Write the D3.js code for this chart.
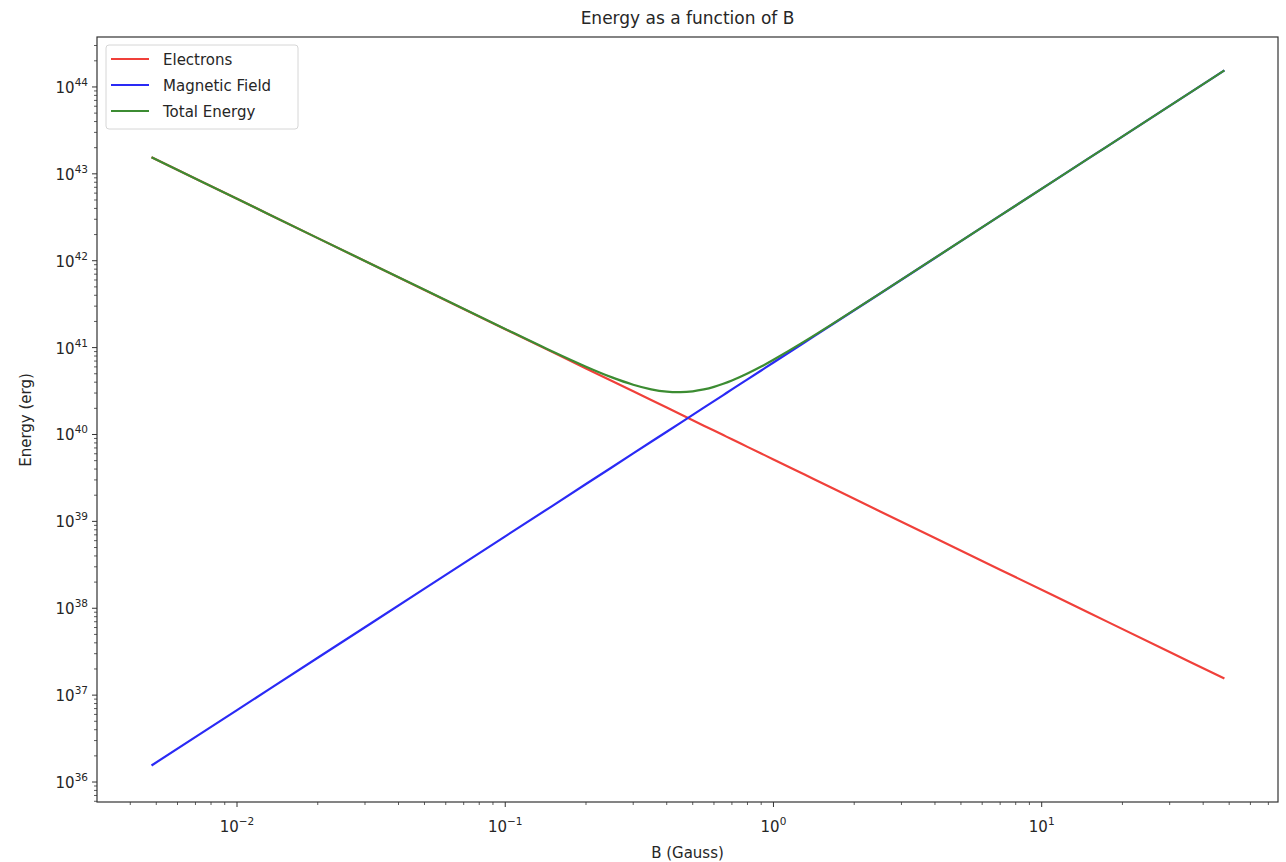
<!DOCTYPE html>
<html><head><meta charset="utf-8">
<script src="https://cdn.jsdelivr.net/npm/d3@7"></script>
<style>body{margin:0;background:#fff;} text{font-family:"DejaVu Sans",sans-serif;fill:#262626;}</style>
</head><body>
<svg id="c" width="1286" height="862"></svg>
<script>
const bValues = [0.0048,0.01,0.02,0.05,0.1,0.15,0.2,0.25,0.3,0.35,0.4,0.45,0.5,0.55,0.6,0.65,0.7,0.8,0.9,1.0,1.3,1.7,2.5,4,7,15,30,48];
const electrons = [1.55e43,5.16e42,1.82e42,4.61e41,1.63e41,8.87e40,5.76e40,4.12e40,3.14e40,2.49e40,2.04e40,1.71e40,1.46e40,1.264e40,1.11e40,9.84e39,8.80e39,7.20e39,6.04e39,5.16e39,3.48e39,2.33e39,1.30e39,6.44e38,2.78e38,8.87e37,3.14e37,1.55e37];
const magnetic = [1.55e36,6.73e36,2.69e37,1.68e38,6.73e38,1.51e39,2.69e39,4.20e39,6.05e39,8.24e39,1.076e40,1.36e40,1.68e40,2.035e40,2.42e40,2.842e40,3.30e40,4.31e40,5.449e40,6.73e40,1.137e41,1.944e41,4.20e41,1.076e42,3.30e42,1.514e43,6.05e43,1.55e44];
const total = [1.55e43,5.16e42,1.82e42,4.63e41,1.64e41,9.02e40,6.03e40,4.54e40,3.74e40,3.31e40,3.11e40,3.07e40,3.14e40,3.30e40,3.53e40,3.83e40,4.18e40,5.03e40,6.05e40,7.25e40,1.172e41,1.967e41,4.21e41,1.077e42,3.30e42,1.515e43,6.05e43,1.55e44];
const seriesNames = ["Electrons","Magnetic Field","Total Energy"];
const xTickExps = [-2,-1,0,1];
const yTickExps = [36,37,38,39,40,41,42,43,44];

const svg = d3.select("#c");
const L=97, R=1278, T=37, B=802;
const x = d3.scaleLog().domain([Math.pow(10,-2.522),Math.pow(10,1.881)]).range([L,R]);
const y = d3.scaleLog().domain([Math.pow(10,35.77),Math.pow(10,44.575)]).range([B,T]);
const colors = ["#f0403a","#2a2af5","#3c8c32"];
const sup = {"-":"\u2212","0":"0","1":"1","2":"2","3":"3","4":"4","5":"5","6":"6","7":"7","8":"8","9":"9"};

const g = svg.append("g");
for (let e=-3;e<=1;e++) for (let m=2;m<=9;m++){ const v=m*Math.pow(10,e); const px=x(v); if(px>L&&px<R) g.append("line").attr("x1",px).attr("x2",px).attr("y1",B).attr("y2",B+3).attr("stroke","#333").attr("stroke-width",0.8); }
for (let e=35;e<=44;e++) for (let m=2;m<=9;m++){ const v=m*Math.pow(10,e); const py=y(v); if(py>T&&py<B) g.append("line").attr("x1",L-3).attr("x2",L).attr("y1",py).attr("y2",py).attr("stroke","#333").attr("stroke-width",0.8); }
xTickExps.forEach(e=>{ const px=x(Math.pow(10,e));
  g.append("line").attr("x1",px).attr("x2",px).attr("y1",B).attr("y2",B+5).attr("stroke","#333").attr("stroke-width",1);
  const t=g.append("text").attr("x",px).attr("y",832).attr("text-anchor","middle").attr("font-size",15);
  t.append("tspan").text("10");
  t.append("tspan").attr("dy",-7).attr("font-size",10.5).text(String(e).split("").map(c=>sup[c]).join(""));
});
yTickExps.forEach(e=>{ const py=y(Math.pow(10,e));
  g.append("line").attr("x1",L-5).attr("x2",L).attr("y1",py).attr("y2",py).attr("stroke","#333").attr("stroke-width",1);
  const t=g.append("text").attr("x",88).attr("y",py+6).attr("text-anchor","end").attr("font-size",15);
  t.append("tspan").text("10");
  t.append("tspan").attr("dy",-7).attr("font-size",10.5).text(String(e));
});

svg.append("clipPath").attr("id","cl").append("rect").attr("x",L).attr("y",T).attr("width",R-L).attr("height",B-T);
const line = d3.line().x((d,i)=>x(bValues[i])).y(d=>y(d)).curve(d3.curveCatmullRom.alpha(0.5));
[electrons,magnetic,total].forEach((s,i)=>{
  svg.append("path").attr("d",line(s)).attr("fill","none").attr("stroke",colors[i]).attr("stroke-width",2.2).attr("clip-path","url(#cl)");
});

svg.append("rect").attr("x",L).attr("y",T).attr("width",R-L).attr("height",B-T).attr("fill","none").attr("stroke","#333").attr("stroke-width",1.2);

const lg = svg.append("g");
lg.append("rect").attr("x",106).attr("y",45).attr("width",192).attr("height",84).attr("rx",3).attr("fill","rgba(255,255,255,0.8)").attr("stroke","#d6d6d6").attr("stroke-width",1);
seriesNames.forEach((n,i)=>{
  const yy=59+i*26;
  lg.append("line").attr("x1",111).attr("x2",149).attr("y1",yy).attr("y2",yy).attr("stroke",colors[i]).attr("stroke-width",2.2);
  lg.append("text").attr("x",163).attr("y",yy+5.5).attr("font-size",15).text(n);
});

svg.append("text").attr("x",(L+R)/2).attr("y",24).attr("text-anchor","middle").attr("font-size",17).text("Energy as a function of B");
svg.append("text").attr("x",(L+R)/2).attr("y",858).attr("text-anchor","middle").attr("font-size",15).text("B (Gauss)");
svg.append("text").attr("transform","translate(31,420) rotate(-90)").attr("text-anchor","middle").attr("font-size",15).text("Energy (erg)");
</script>
</body></html>
